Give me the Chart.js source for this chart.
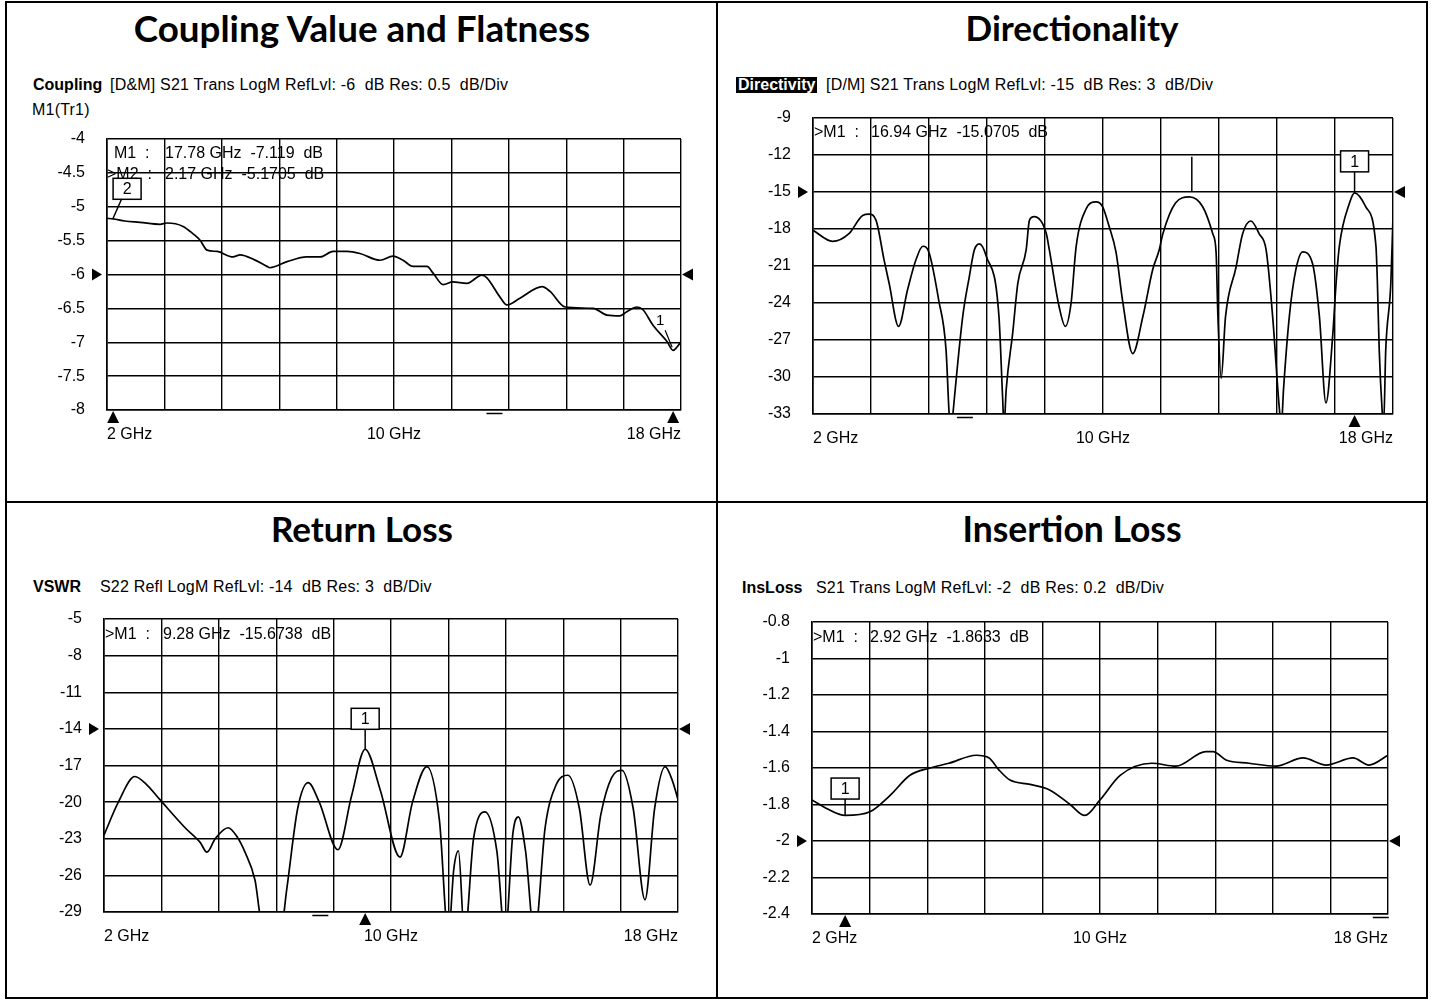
<!DOCTYPE html>
<html><head><meta charset="utf-8">
<script src="https://cdn.jsdelivr.net/npm/chart.js@4.4.1/dist/chart.umd.min.js"></script>
<style>
html,body{margin:0;padding:0;background:#fff;}
body{width:1433px;height:1001px;position:relative;overflow:hidden;font-family:"Liberation Sans",Arial,sans-serif;color:#000;}
.abs{position:absolute;white-space:pre;line-height:1;}
.title{font-family:Lato,"DejaVu Sans",sans-serif;font-weight:700;font-size:28px;text-align:center;width:600px;}
.hdr{font-size:16px;letter-spacing:0.2px;}
.b{font-weight:bold;letter-spacing:0;}
.ro{font-size:16px;}
.inv{background:#000;color:#fff;font-weight:bold;font-size:16px;padding:0 2px;}
canvas{position:absolute;}
.ln{position:absolute;background:#000;z-index:5;}
</style></head><body>

<div class="abs title" style="left:62px;top:10px;" data-w="458">Coupling Value and Flatness</div>
<div class="abs title" style="left:772px;top:10px;" data-w="213">Directionality</div>
<div class="abs title" style="left:62px;top:511px;" data-w="182">Return Loss</div>
<div class="abs title" style="left:772px;top:511px;" data-w="219">Insertion Loss</div>

<div class="abs hdr b" style="left:33px;top:77px;">Coupling</div>
<div class="abs hdr" style="left:110px;top:77px;">[D&amp;M] S21 Trans LogM RefLvl: -6  dB Res: 0.5  dB/Div</div>
<div class="abs hdr" style="left:32px;top:102px;">M1(Tr1)</div>

<div class="abs inv" style="left:736px;top:77px;">Directivity</div>
<div class="abs hdr" style="left:826px;top:77px;">[D/M] S21 Trans LogM RefLvl: -15  dB Res: 3  dB/Div</div>

<div class="abs hdr b" style="left:33px;top:579px;">VSWR</div>
<div class="abs hdr" style="left:100px;top:579px;">S22 Refl LogM RefLvl: -14  dB Res: 3  dB/Div</div>

<div class="abs hdr b" style="left:742px;top:580px;">InsLoss</div>
<div class="abs hdr" style="left:816px;top:580px;">S21 Trans LogM RefLvl: -2  dB Res: 0.2  dB/Div</div>

<canvas id="c1" width="700" height="360" style="left:10px;top:99px;"></canvas>
<canvas id="c2" width="706" height="385" style="left:722px;top:78px;"></canvas>
<canvas id="c3" width="700" height="380" style="left:10px;top:579px;"></canvas>
<canvas id="c4" width="706" height="380" style="left:722px;top:582px;"></canvas>

<div class="abs ro" style="left:114px;top:145px;z-index:6;">M1  :</div>
<div class="abs ro" style="left:165px;top:145px;z-index:6;">17.78 GHz  -7.119  dB</div>
<div class="abs ro" style="left:107px;top:166px;z-index:6;">&gt;M2  :</div>
<div class="abs ro" style="left:165px;top:166px;z-index:6;">2.17 GHz  -5.1705  dB</div>

<div class="abs ro" style="left:814px;top:124px;z-index:6;">&gt;M1  :</div>
<div class="abs ro" style="left:871px;top:124px;z-index:6;">16.94 GHz  -15.0705  dB</div>

<div class="abs ro" style="left:105px;top:626px;z-index:6;">&gt;M1  :</div>
<div class="abs ro" style="left:163px;top:626px;z-index:6;">9.28 GHz  -15.6738  dB</div>

<div class="abs ro" style="left:813px;top:629px;z-index:6;">&gt;M1  :</div>
<div class="abs ro" style="left:870px;top:629px;z-index:6;">2.92 GHz  -1.8633  dB</div>

<div class="ln" style="left:5px;top:1px;width:2px;height:998px;"></div>
<div class="ln" style="left:1426px;top:1px;width:2px;height:998px;"></div>
<div class="ln" style="left:5px;top:1px;width:1423px;height:2px;"></div>
<div class="ln" style="left:5px;top:997px;width:1423px;height:2px;"></div>
<div class="ln" style="left:716px;top:1px;width:2px;height:998px;"></div>
<div class="ln" style="left:5px;top:501px;width:1423px;height:2px;"></div>

<script>
// ---------- DATA ----------
const freqGrid = [2, 3.6, 5.2, 6.8, 8.4, 10, 11.6, 13.2, 14.8, 16.4, 18];
const freqLabels = {2: '2 GHz', 10: '10 GHz', 18: '18 GHz'};

const cplTicks = [-4, -4.5, -5, -5.5, -6, -6.5, -7, -7.5, -8];
const dirTicks = [-9, -12, -15, -18, -21, -24, -27, -30, -33];
const rlTicks  = [-5, -8, -11, -14, -17, -20, -23, -26, -29];
const ilTicks  = [-0.8, -1, -1.2, -1.4, -1.6, -1.8, -2, -2.2, -2.4];

const cplFreq = [2.0, 2.17, 2.5, 2.92, 3.48, 3.67, 4.12, 4.4, 4.59, 4.79, 5.07, 5.51, 5.71, 6.1, 6.46, 6.54, 7.02, 7.57, 7.94, 8.3, 8.69, 9.05, 9.61, 9.97, 10.25, 10.53, 10.92, 11.09, 11.37, 11.64, 12.03, 12.45, 12.59, 12.95, 13.15, 13.51, 14.13, 14.35, 14.77, 15.55, 15.94, 16.3, 16.49, 16.77, 16.94, 17.22, 17.61, 17.78, 17.89, 18.0];
const cplDb   = [-5.17, -5.18, -5.21, -5.23, -5.26, -5.24, -5.29, -5.40, -5.49, -5.64, -5.66, -5.74, -5.71, -5.78, -5.88, -5.90, -5.81, -5.74, -5.74, -5.66, -5.66, -5.69, -5.79, -5.73, -5.79, -5.88, -5.88, -5.98, -6.15, -6.11, -6.13, -6.01, -6.05, -6.33, -6.45, -6.35, -6.18, -6.25, -6.48, -6.50, -6.60, -6.61, -6.55, -6.48, -6.52, -6.75, -6.99, -7.12, -7.07, -6.99];

const dirFreq = [2.0, 2.54, 3.0, 3.37, 3.55, 3.74, 3.96, 4.1, 4.36, 4.61, 4.84, 5.03, 5.2, 5.47, 5.67, 5.75, 5.8, 5.86, 6.13, 6.31, 6.45, 6.59, 6.78, 7.13, 7.23, 7.27, 7.33, 7.51, 7.65, 7.88, 7.97, 8.1, 8.43, 8.52, 8.79, 8.96, 9.12, 9.26, 9.53, 9.81, 9.99, 10.17, 10.36, 10.54, 10.82, 11.1, 11.37, 11.55, 11.65, 12.0, 12.38, 12.75, 13.03, 13.12, 13.17, 13.26, 13.38, 13.67, 13.85, 14.08, 14.31, 14.5, 14.68, 14.86, 14.92, 14.98, 15.14, 15.32, 15.51, 15.78, 15.97, 16.15, 16.34, 16.43, 16.52, 16.8, 16.94, 17.25, 17.53, 17.57, 17.62, 17.7, 17.74, 17.8, 17.94, 18.0];
const dirDb   = [-18.1, -19.0, -18.35, -16.9, -16.8, -17.3, -20.5, -22.4, -25.9, -22.9, -20.5, -19.4, -19.9, -23.8, -27.8, -32.7, -35, -33, -25.1, -21.9, -19.7, -19.2, -20.2, -25.1, -31.6, -34, -31, -26.4, -22.4, -19.7, -17.3, -17.0, -18.3, -19.7, -24.3, -25.9, -24.0, -19.4, -16.4, -15.8, -16.2, -17.8, -19.9, -23.8, -28.1, -25.1, -21.3, -19.7, -18.4, -15.9, -15.4, -16.2, -18.4, -19.9, -25.1, -30.1, -25.1, -21.1, -18.4, -17.35, -18.4, -19.7, -25.1, -32.4, -34, -31, -25.1, -21.3, -19.85, -20.8, -25.1, -32.1, -26.5, -22.4, -19.4, -15.9, -15.07, -16.2, -19.4, -22.4, -27.8, -32.7, -34, -27.8, -22.4, -17.0];

const rlFreq = [2.0, 2.4, 2.86, 3.2, 3.56, 4.26, 4.68, 4.87, 5.1, 5.46, 5.7, 5.93, 6.21, 6.4, 6.9, 7.1, 7.4, 7.69, 8.0, 8.52, 8.9, 9.28, 9.7, 10.25, 10.6, 11.0, 11.35, 11.6, 11.75, 11.88, 12.05, 12.3, 12.62, 12.95, 13.18, 13.4, 13.55, 13.75, 14.0, 14.3, 14.6, 14.93, 15.25, 15.55, 15.85, 16.15, 16.44, 16.75, 17.08, 17.35, 17.64, 17.85, 18.0];
const rlDb   = [-22.7, -20.0, -17.9, -18.6, -19.8, -22.1, -23.3, -24.1, -23.0, -22.1, -22.8, -24.1, -26.4, -30.0, -31, -27, -20.5, -18.4, -20, -23.9, -19.5, -15.67, -19, -24.5, -20, -17.1, -21.5, -31, -25.5, -24.0, -31, -23, -20.8, -24, -31, -22.5, -21.2, -24, -31, -22, -18.6, -17.8, -20.5, -26.8, -21, -18, -17.4, -20.5, -28.0, -20.5, -17.1, -18.3, -19.8];

const ilFreq = [2.0, 2.39, 2.92, 3.61, 4.17, 4.72, 5.28, 5.8, 6.56, 6.92, 7.19, 7.5, 8.06, 8.6, 9.17, 9.58, 10.0, 10.56, 11.44, 12.11, 12.94, 13.14, 13.5, 14.14, 14.89, 15.64, 16.28, 17.03, 17.47, 18.0];
const ilDb   = [-1.775, -1.82, -1.86, -1.84, -1.75, -1.64, -1.60, -1.574, -1.53, -1.545, -1.61, -1.666, -1.69, -1.72, -1.80, -1.86, -1.775, -1.64, -1.574, -1.59, -1.51, -1.51, -1.556, -1.574, -1.59, -1.545, -1.584, -1.545, -1.584, -1.53];

// ---------- RENDER ----------
const mctx = document.createElement('canvas').getContext('2d');
document.querySelectorAll('.title').forEach(el => {
  mctx.font = '700 28px Lato';
  const m = mctx.measureText(el.textContent).width;
  el.style.fontSize = (28 * (+el.dataset.w) / m).toFixed(2) + 'px';
});

function tri(ctx, pts) {
  ctx.beginPath(); ctx.moveTo(pts[0][0], pts[0][1]);
  ctx.lineTo(pts[1][0], pts[1][1]); ctx.lineTo(pts[2][0], pts[2][1]);
  ctx.closePath(); ctx.fill();
}

const vnaPlugin = {
  id: 'vna',
  afterDraw(chart, args, o) {
    const {ctx, chartArea: a} = chart;
    const x = chart.scales.x, y = chart.scales.y;
    ctx.save();
    ctx.fillStyle = '#000'; ctx.strokeStyle = '#000';
    const ry = y.getPixelForValue(o.ref);
    tri(ctx, [[a.left - 5, ry], [a.left - 15, ry - 6], [a.left - 15, ry + 6]]);
    tri(ctx, [[a.right + 1, ry], [a.right + 12, ry - 6], [a.right + 12, ry + 6]]);
    (o.up || []).forEach(f => {
      const px = x.getPixelForValue(f);
      tri(ctx, [[px, a.bottom + 1], [px - 6, a.bottom + 13], [px + 6, a.bottom + 13]]);
    });
    (o.dash || []).forEach(f => {
      const px = x.getPixelForValue(f);
      ctx.lineWidth = 1.5; ctx.beginPath();
      ctx.moveTo(px - 8, a.bottom + 3.5); ctx.lineTo(px + 8, a.bottom + 3.5); ctx.stroke();
    });
    (o.boxes || []).forEach(m => {
      const px = x.getPixelForValue(m.f), py = y.getPixelForValue(m.v);
      const bw = 28, bh = 21;
      const bx = px - bw / 2 + (m.dx || 0), by = py - (m.gap || 20) - bh;
      ctx.fillStyle = '#fff'; ctx.fillRect(bx, by, bw, bh);
      ctx.fillStyle = '#000';
      ctx.lineWidth = 1.5; ctx.strokeRect(bx, by, bw, bh);
      ctx.beginPath(); ctx.moveTo(px + (m.dx || 0) * 0.6, by + bh); ctx.lineTo(px, py); ctx.stroke();
      ctx.font = '16px "Liberation Sans"'; ctx.textAlign = 'center'; ctx.textBaseline = 'middle';
      ctx.fillText(m.label, bx + bw / 2, by + bh / 2 + 1);
    });
    (o.plain || []).forEach(m => {
      const px = x.getPixelForValue(m.f), py = y.getPixelForValue(m.v);
      ctx.font = '15px "Liberation Sans"'; ctx.textAlign = 'center'; ctx.textBaseline = 'middle';
      ctx.fillText(m.label, px - 13, py - 29);
      ctx.lineWidth = 1.2; ctx.beginPath(); ctx.moveTo(px - 8, py - 20); ctx.lineTo(px - 1, py - 3); ctx.stroke();
    });
    (o.vlines || []).forEach(m => {
      const px = x.getPixelForValue(m.f);
      ctx.lineWidth = 1.5; ctx.beginPath();
      ctx.moveTo(px, y.getPixelForValue(m.v1)); ctx.lineTo(px, y.getPixelForValue(m.v2)); ctx.stroke();
    });
    ctx.restore();
  }
};

function panel(id, canvasRect, plot, freqs, vals, yTicks, vna) {
  const [cl, ct, cw, ch] = canvasRect;
  const [pl, pt, pr, pb] = plot;
  const pts = freqs.map((f, i) => ({x: f, y: vals[i]}));
  new Chart(document.getElementById(id), {
    type: 'line',
    data: {datasets: [{data: pts, borderColor: '#000', borderWidth: 1.7, pointRadius: 0,
      cubicInterpolationMode: 'monotone', fill: false}]},
    options: {
      responsive: false, animation: false, events: [],
      layout: {padding: {left: 0, top: pt - ct, right: cl + cw - pr, bottom: 0}},
      plugins: {legend: {display: false}, tooltip: {enabled: false}, vna: vna},
      scales: {
        x: {type: 'linear', min: 2, max: 18,
          afterBuildTicks: s => { s.ticks = freqGrid.map(v => ({value: v})); },
          afterFit: s => { s.height = ct + ch - pb; },
          ticks: {callback: v => freqLabels[v] || '', align: 'inner', autoSkip: false, maxRotation: 0,
            color: '#000', font: {family: 'Liberation Sans', size: 16}, padding: 15},
          grid: {color: '#000', lineWidth: 1.4, drawTicks: false},
          border: {color: '#000', width: 1.6}},
        y: {type: 'linear', min: yTicks[yTicks.length - 1], max: yTicks[0],
          afterBuildTicks: s => { s.ticks = yTicks.slice().reverse().map(v => ({value: v})); },
          afterFit: s => { s.width = pl - cl; },
          ticks: {callback: v => String(v), autoSkip: false, color: '#000',
            font: {family: 'Liberation Sans', size: 16}, padding: 22},
          grid: {color: '#000', lineWidth: 1.4, drawTicks: false},
          border: {color: '#000', width: 1.6}}
      }
    },
    plugins: [vnaPlugin]
  });
}

panel('c1', [10, 99, 700, 360], [107, 139, 681, 410], cplFreq, cplDb, cplTicks,
  {ref: -6, up: [2.17, 17.78], dash: [12.8],
   boxes: [{f: 2.17, v: -5.1705, label: '2', dx: 14, gap: 19}],
   plain: [{f: 17.78, v: -7.119, label: '1'}]});
panel('c2', [722, 78, 706, 385], [813, 118, 1393, 414], dirFreq, dirDb, dirTicks,
  {ref: -15, up: [16.94], dash: [6.19],
   boxes: [{f: 16.94, v: -15.0705, label: '1', gap: 21}],
   vlines: [{f: 12.45, v1: -12.15, v2: -15.0}]});
panel('c3', [10, 579, 700, 380], [104, 619, 678, 912], rlFreq, rlDb, rlTicks,
  {ref: -14, up: [9.28], dash: [8.03],
   boxes: [{f: 9.28, v: -15.6738, label: '1', gap: 20}]});
panel('c4', [722, 582, 706, 380], [812, 622, 1388, 914], ilFreq, ilDb, ilTicks,
  {ref: -2, up: [2.92], dash: [17.8],
   boxes: [{f: 2.92, v: -1.8633, label: '1', gap: 17}]});
</script>
</body></html>
